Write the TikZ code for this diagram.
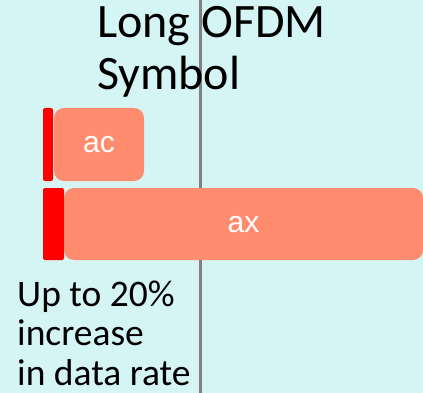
\documentclass[tikz,border=0pt]{standalone}
\usepackage{fontspec}
\setmainfont{Carlito}
\newfontfamily\boxfont{Liberation Sans}
\definecolor{bgcyan}{RGB}{213,245,244}
\definecolor{salmon}{RGB}{255,140,110}
\definecolor{guard}{RGB}{255,0,0}
\definecolor{divider}{RGB}{128,128,128}
\tikzset{
  px/.style={x=1pt,y=-1pt},
  cpbar/.style={fill=guard,draw=none,rounded corners=2pt,inner sep=0pt},
  symbox/.style={fill=salmon,draw=none,rounded corners=10pt,inner sep=0pt,
    text=white,font=\boxfont\fontsize{30}{34}\selectfont},
  caption/.style={inner sep=0pt,align=left,text=black}
}
\begin{document}
\begin{tikzpicture}[px]
  % canvas
  \fill[bgcyan] (0,0) rectangle (423,393);
  \useasboundingbox (0,0) rectangle (423,393);
  % symbol boundary
  \coordinate (top) at (200,0);
  \coordinate (bot) at (200,393);
  \draw[divider,line width=3pt] (top) -- (bot);
  % 802.11ac symbol with its guard interval
  \node[cpbar,minimum width=10pt,minimum height=73pt] (acgi) at (48,144.5) {};
  \node[symbox,minimum width=90pt,minimum height=73pt,text depth=-2pt] (ac) at (99,144.5) {ac};
  % 802.11ax symbol with its guard interval
  \node[cpbar,minimum width=21pt,minimum height=72pt] (axgi) at (53.5,224) {};
  \node[symbox,minimum width=359pt,minimum height=72pt,text depth=-2pt] (ax) at (243.5,224) {ax};
  % labels (base anchor sits on the last line)
  \node[caption,anchor=base west,font=\fontsize{48}{52}\selectfont] (title) at (97,90)
    {Long OFDM\\Symbol};
  \node[caption,anchor=base west,font=\fontsize{37.5}{39.5}\selectfont] (gain) at (17,385)
    {Up to 20\%\\increase\\in data rate};
\end{tikzpicture}
\end{document}
